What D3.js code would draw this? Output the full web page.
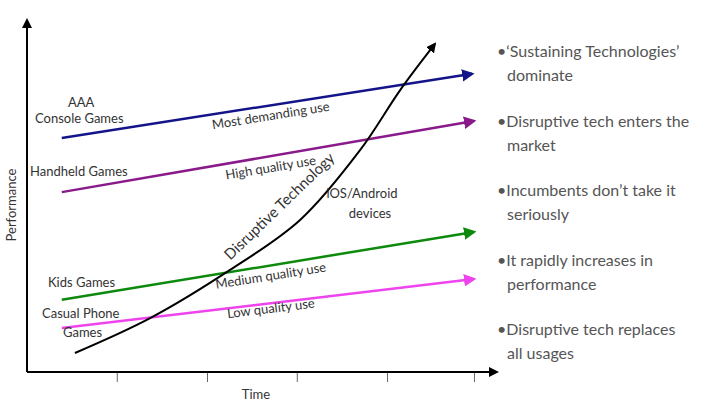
<!DOCTYPE html><html><head><meta charset="utf-8">
<script src="https://cdn.jsdelivr.net/npm/d3@7"></script>
<style>body{margin:0;background:#fff}text{font-family:Lato,"Open Sans",sans-serif}</style></head><body>
<svg id="c" width="728" height="410"></svg>
<script>
const seriesNames=["Most demanding use","High quality use","Medium quality use","Low quality use"];
const seriesColors=["#14148a","#8a1a8a","#0d8a0d","#ee44ee"];
const seriesStartX=[7.4,7.4,7.4,7.4];
const seriesEndX=[94.7,95.1,95.1,95.1];
const seriesStartY=[66.5,51.1,20.5,12.5];
const seriesEndY=[84.7,71.3,39.8,26.4];
const curveX=[10.2,26.2,43.2,58.1,70.9,79.4,86.8];
const curveY=[5.4,15.3,29,43.2,63.1,80.1,93.2];
const xTicks=[19.1,38.3,57.4,76.6,95.1];
const bullets=[["•‘Sustaining Technologies’","dominate"],["•Disruptive tech enters the","market"],["•Incumbents don’t take it","seriously"],["•It rapidly increases in","performance"],["•Disruptive tech replaces","all usages"]];

const svg=d3.select("#c");
const x=d3.scaleLinear().domain([0,100]).range([27,497]);
const y=d3.scaleLinear().domain([0,100]).range([372,20]);
const defs=svg.append("defs");
function marker(id,col){defs.append("marker").attr("id",id).attr("viewBox","0 0 10 10").attr("refX",8).attr("refY",5)
 .attr("markerWidth",5).attr("markerHeight",5).attr("orient","auto").append("path").attr("d","M0,0L10,5L0,10z").attr("fill",col);}
marker("mk","#000");seriesColors.forEach((c,i)=>marker("m"+i,c));
const xa=d3.axisBottom(x).tickValues(xTicks).tickFormat("").tickSize(10).tickSizeOuter(0);
const g=svg.append("g").attr("transform","translate(0,372)").call(xa);
g.select(".domain").remove();g.selectAll("line").attr("stroke","#000").attr("stroke-width",0.6);
svg.append("line").attr("x1",x(0)).attr("y1",y(0)).attr("x2",x(100)).attr("y2",y(0)).attr("stroke","#000").attr("stroke-width",2).attr("marker-end","url(#mk)");
svg.append("line").attr("x1",x(0)).attr("y1",y(0)).attr("x2",x(0)).attr("y2",y(100)).attr("stroke","#000").attr("stroke-width",2).attr("marker-end","url(#mk)");
seriesNames.forEach((n,i)=>{
 svg.append("line").attr("x1",x(seriesStartX[i])).attr("y1",y(seriesStartY[i])).attr("x2",x(seriesEndX[i])).attr("y2",y(seriesEndY[i]))
  .attr("stroke",seriesColors[i]).attr("stroke-width",2.5).attr("marker-end","url(#m"+i+")");
});
const line=d3.line().x(d=>x(d[0])).y(d=>y(d[1])).curve(d3.curveCatmullRom);
svg.append("path").attr("d",line(curveX.map((v,i)=>[v,curveY[i]]))).attr("fill","none").attr("stroke","#000").attr("stroke-width",2).attr("marker-end","url(#mk)");
function t(s,px,py,rot,size,anchor){return svg.append("text").attr("transform",`translate(${px},${py}) rotate(${rot||0})`)
 .attr("text-anchor",anchor||"start").attr("font-size",size||13).attr("fill","#333").text(s);}
const labelX=[52,52,52,52],labelY=[71.6,56.8,26.1,16.8],labelRot=[-9,-9.5,-9,-7];
seriesNames.forEach((n,i)=>t(n,x(labelX[i]),y(labelY[i]),labelRot[i],13,"middle"));
t("AAA",68,107);t("Console Games",35,123);t("Handheld Games",30,176);t("Kids Games",48,287);t("Casual Phone",42,318);t("Games",63,337);
t("Disruptive Technology",283,210,-44,15,"middle");
t("iOS/Android",362,198,0,13,"middle");t("devices",370,218,0,13,"middle");
t("Performance",16,205,-90,13,"middle");t("Time",256,399,0,13,"middle");
bullets.forEach((b,i)=>{t(b[0],497,57+i*69.5,0,16).attr("fill","#555");t(b[1],507,81+i*69.5,0,16).attr("fill","#555");});
</script></body></html>
